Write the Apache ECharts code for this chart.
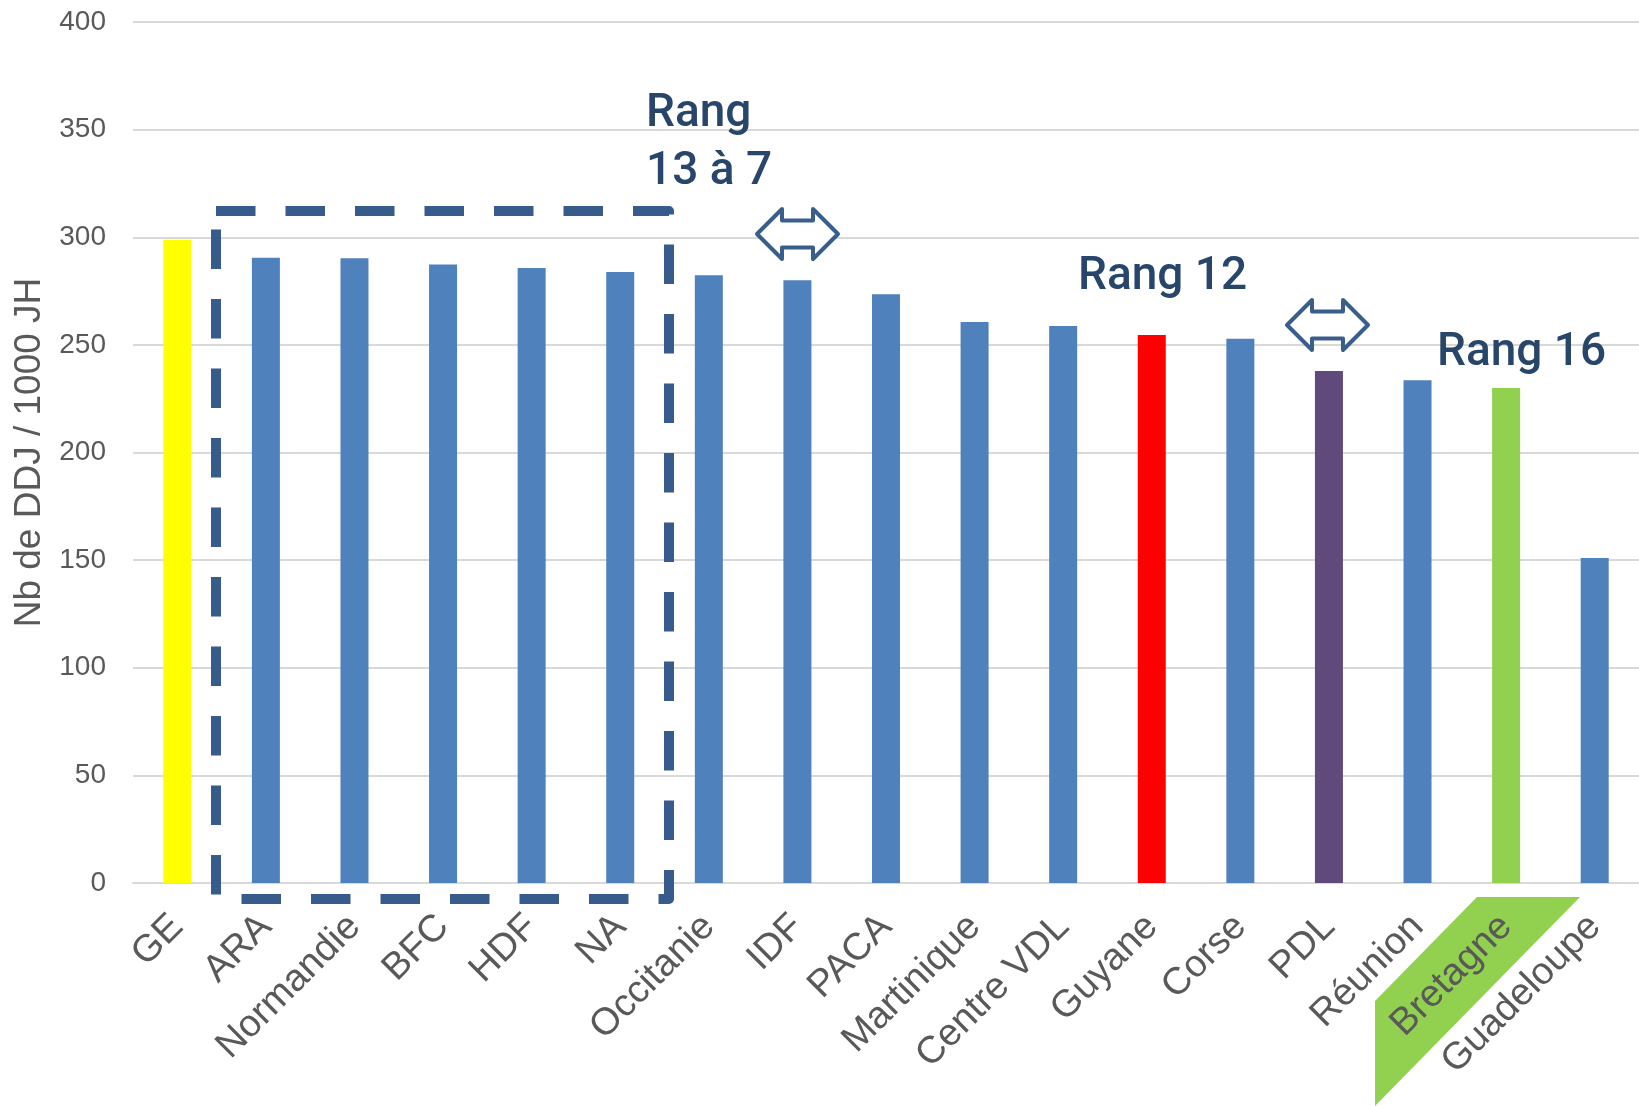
<!DOCTYPE html>
<html>
<head>
<meta charset="utf-8">
<script src="https://cdn.jsdelivr.net/npm/echarts@6/dist/echarts.min.js"></script>
<style>
html,body{margin:0;padding:0;background:#fff;}
#chart{width:1639px;height:1106px;}
</style>
</head>
<body>
<div id="chart"></div>
<script>
const categories = ['GE','ARA','Normandie','BFC','HDF','NA','Occitanie','IDF','PACA','Martinique','Centre VDL','Guyane','Corse','PDL','Réunion','Bretagne','Guadeloupe'];
const values = [298.7, 290.5, 290.2, 287.3, 285.7, 283.9, 282.3, 280.0, 273.5, 260.6, 258.8, 254.6, 252.9, 237.9, 233.6, 230.0, 151.0];
const yTickLabels = ['0','50','100','150','200','250','300','350','400'];
const yAxisTitle = 'Nb de DDJ / 1000 JH';
const annotationTexts = ['Rang', '13 à 7', 'Rang 12', 'Rang 16'];

const defaultColor = '#4F81BD';
const highlightColors = { 'GE': '#FFFF00', 'Guyane': '#FF0000', 'PDL': '#604A7B', 'Bretagne': '#92D050' };

const chart = echarts.init(document.getElementById('chart'), null, { renderer: 'canvas' });

const labelFont = "'Liberation Sans', Arial, sans-serif";
const annFont = "Roboto, 'DejaVu Sans Condensed', sans-serif";
const annColor = '#28456A';
const boxColor = '#375B8B';
const arrowColor = '#3A5E8C';

function arrowPoints(x0, y0) {
  const w = 81, h = 50, head = 25, sh = 13.5;
  const cy = y0 + h / 2;
  return [
    [x0, cy], [x0 + head, y0], [x0 + head, cy - sh], [x0 + w - head, cy - sh], [x0 + w - head, y0],
    [x0 + w, cy], [x0 + w - head, y0 + h], [x0 + w - head, cy + sh], [x0 + head, cy + sh], [x0 + head, y0 + h]
  ];
}

function annText(txt, x, y) {
  return {
    type: 'text', z: 10, silent: true, left: x, top: y,
    style: { text: txt, fill: annColor, font: "500 46px " + annFont }
  };
}

const option = {
  animation: false,
  backgroundColor: '#ffffff',
  grid: { left: 133, right: 0, top: 22, bottom: 223, containLabel: false },
  xAxis: {
    type: 'category',
    data: categories,
    axisTick: { show: false },
    axisLine: { show: true, lineStyle: { color: '#D9D9D9', width: 2 } },
    axisLabel: {
      rotate: 45,
      interval: 0,
      margin: 38,
      color: '#595959',
      fontSize: 38,
      fontFamily: labelFont
    }
  },
  yAxis: {
    type: 'value',
    min: 0,
    max: 400,
    interval: 50,
    name: yAxisTitle,
    nameLocation: 'middle',
    nameGap: 84,
    nameTextStyle: { color: '#595959', fontSize: 37, fontFamily: labelFont },
    axisLine: { show: false },
    axisTick: { show: false },
    axisLabel: {
      margin: 27,
      color: '#595959',
      fontSize: 28,
      fontFamily: labelFont,
      formatter: function (v) { return yTickLabels[Math.round(v / 50)]; }
    },
    splitLine: { lineStyle: { color: '#D9D9D9', width: 2 } }
  },
  series: [{
    type: 'bar',
    barWidth: 28,
    data: values.map(function (v, i) {
      return { value: v, itemStyle: { color: highlightColors[categories[i]] || defaultColor } };
    })
  }],
  graphic: [
    {
      type: 'polygon', z: -10, silent: true,
      shape: { points: [[1477, 897], [1580, 897], [1375, 1106], [1375, 1001]] },
      style: { fill: '#92D050' }
    },
    {
      type: 'rect', z: 10, silent: true,
      shape: { x: 216, y: 211, width: 453, height: 688 },
      style: { fill: null, stroke: boxColor, lineWidth: 10, lineDash: [39.5, 30], lineCap: 'butt', lineJoin: 'round' }
    },
    {
      type: 'polygon', z: 10, silent: true,
      shape: { points: arrowPoints(757, 209) },
      style: { fill: '#ffffff', stroke: arrowColor, lineWidth: 4, lineJoin: 'round' }
    },
    {
      type: 'polygon', z: 10, silent: true,
      shape: { points: arrowPoints(1287, 300) },
      style: { fill: '#ffffff', stroke: arrowColor, lineWidth: 4, lineJoin: 'round' }
    },
    annText(annotationTexts[0], 646, 91),
    annText(annotationTexts[1], 646, 149),
    annText(annotationTexts[2], 1078, 254),
    annText(annotationTexts[3], 1437, 330)
  ]
};
chart.setOption(option);
</script>
</body>
</html>
